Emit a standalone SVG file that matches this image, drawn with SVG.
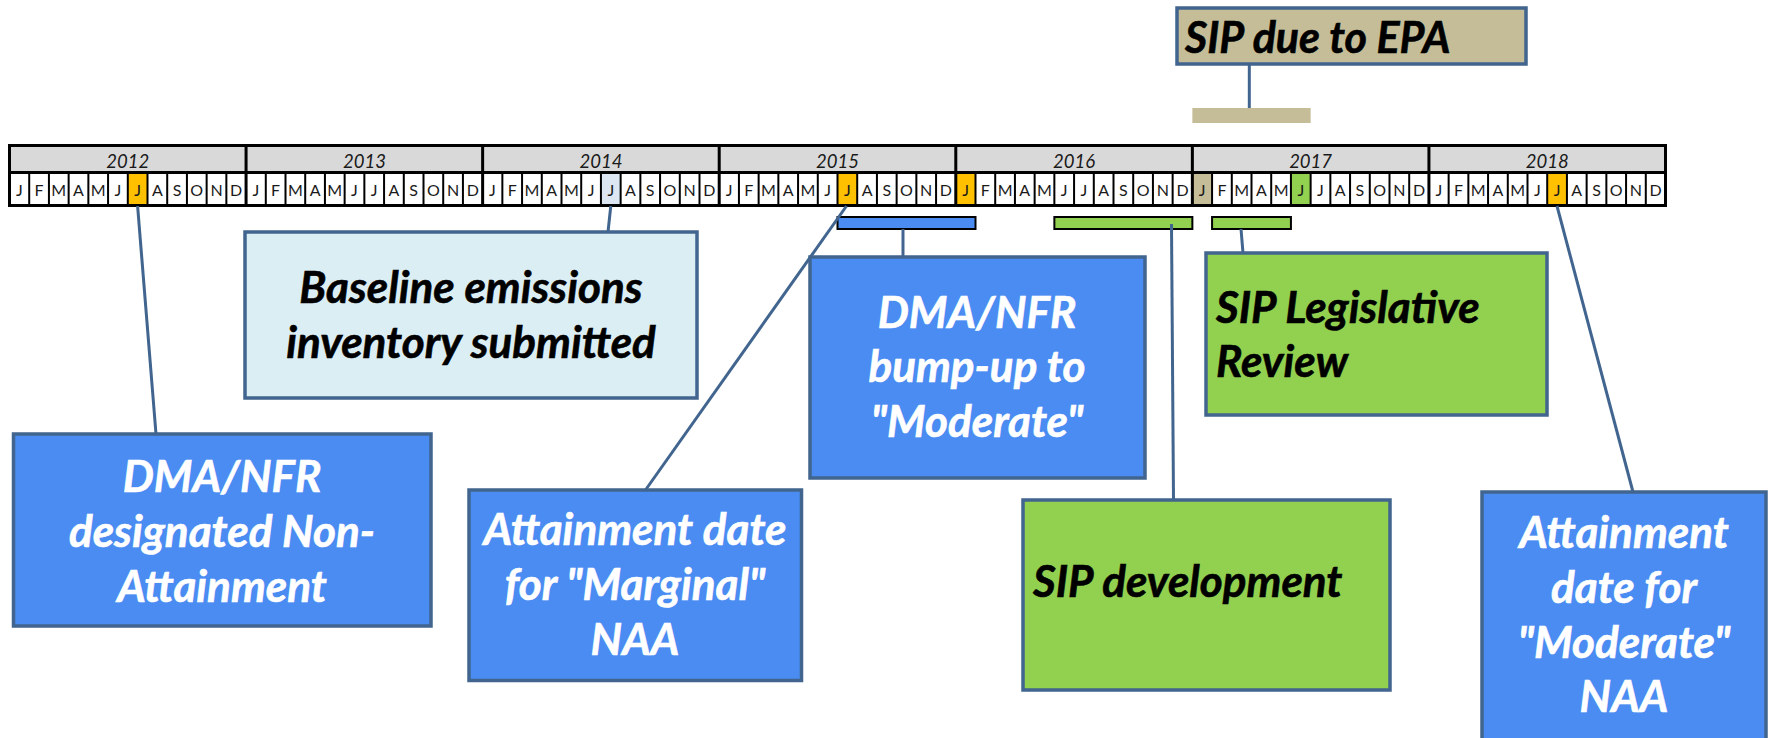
<svg xmlns="http://www.w3.org/2000/svg" width="1769" height="738" viewBox="0 0 1769 738">
<style>
.box{stroke:#41658F;stroke-width:3.5}
.blue{fill:#4A8CF2}
.green{fill:#92D050}
.lb{fill:#DBEEF4}
.tan{fill:#C4BD97}
.bt{font-family:Lato,"Liberation Sans",sans-serif;font-weight:bold;font-style:italic;font-size:44px;stroke-width:0.6}
.w{fill:#FFFFFF;stroke:#FFFFFF}
.k{fill:#000000;stroke:#000000}
.mid{text-anchor:middle}
.conn{stroke:#41658F;stroke-width:3;fill:none}
.yr{font-family:Lato,"Liberation Sans",sans-serif;font-style:italic;font-size:18.5px;fill:#1a1a1a;text-anchor:middle}
.mo{font-family:Lato,"Liberation Sans",sans-serif;font-size:16px;fill:#1a1a1a;text-anchor:middle}
.bar{stroke:#000;stroke-width:2}
</style>

<g id="timeline">
  <rect x="9.5" y="145.5" width="1656" height="27" fill="#D9D9D9"/>
  <rect x="9.5" y="172.5" width="1656" height="33" fill="#FFFFFF"/>
  <rect x="127.79" y="172.5" width="19.71" height="33" fill="#FFC000"/>
  <rect x="600.93" y="172.5" width="19.71" height="33" fill="#DCE6F2"/>
  <rect x="837.5" y="172.5" width="19.71" height="33" fill="#FFC000"/>
  <rect x="955.79" y="172.5" width="19.71" height="33" fill="#FFC000"/>
  <rect x="1192.36" y="172.5" width="19.71" height="33" fill="#C4BD97"/>
  <rect x="1290.93" y="172.5" width="19.71" height="33" fill="#92D050"/>
  <rect x="1547.21" y="172.5" width="19.71" height="33" fill="#FFC000"/>
  <path stroke="#000" stroke-width="2" fill="none" d="M29.21 172.5V205.5M48.93 172.5V205.5M68.64 172.5V205.5M88.36 172.5V205.5M108.07 172.5V205.5M127.79 172.5V205.5M147.5 172.5V205.5M167.21 172.5V205.5M186.93 172.5V205.5M206.64 172.5V205.5M226.36 172.5V205.5M265.79 172.5V205.5M285.5 172.5V205.5M305.21 172.5V205.5M324.93 172.5V205.5M344.64 172.5V205.5M364.36 172.5V205.5M384.07 172.5V205.5M403.79 172.5V205.5M423.5 172.5V205.5M443.21 172.5V205.5M462.93 172.5V205.5M502.36 172.5V205.5M522.07 172.5V205.5M541.79 172.5V205.5M561.5 172.5V205.5M581.21 172.5V205.5M600.93 172.5V205.5M620.64 172.5V205.5M640.36 172.5V205.5M660.07 172.5V205.5M679.79 172.5V205.5M699.5 172.5V205.5M738.93 172.5V205.5M758.64 172.5V205.5M778.36 172.5V205.5M798.07 172.5V205.5M817.79 172.5V205.5M837.5 172.5V205.5M857.21 172.5V205.5M876.93 172.5V205.5M896.64 172.5V205.5M916.36 172.5V205.5M936.07 172.5V205.5M975.5 172.5V205.5M995.21 172.5V205.5M1014.93 172.5V205.5M1034.64 172.5V205.5M1054.36 172.5V205.5M1074.07 172.5V205.5M1093.79 172.5V205.5M1113.5 172.5V205.5M1133.21 172.5V205.5M1152.93 172.5V205.5M1172.64 172.5V205.5M1212.07 172.5V205.5M1231.79 172.5V205.5M1251.5 172.5V205.5M1271.21 172.5V205.5M1290.93 172.5V205.5M1310.64 172.5V205.5M1330.36 172.5V205.5M1350.07 172.5V205.5M1369.79 172.5V205.5M1389.5 172.5V205.5M1409.21 172.5V205.5M1448.64 172.5V205.5M1468.36 172.5V205.5M1488.07 172.5V205.5M1507.79 172.5V205.5M1527.5 172.5V205.5M1547.21 172.5V205.5M1566.93 172.5V205.5M1586.64 172.5V205.5M1606.36 172.5V205.5M1626.07 172.5V205.5M1645.79 172.5V205.5"/>
  <path stroke="#000" stroke-width="3" fill="none" d="M9.5 172.5H1665.5M246.07 145.5V205.5M482.64 145.5V205.5M719.21 145.5V205.5M955.79 145.5V205.5M1192.36 145.5V205.5M1428.93 145.5V205.5"/>
  <rect x="9.5" y="145.5" width="1656" height="60" fill="none" stroke="#000" stroke-width="3"/>
  <text class="yr" x="127.8" y="167.5">2012</text>
  <text class="yr" x="364.4" y="167.5">2013</text>
  <text class="yr" x="600.9" y="167.5">2014</text>
  <text class="yr" x="837.5" y="167.5">2015</text>
  <text class="yr" x="1074.1" y="167.5">2016</text>
  <text class="yr" x="1310.6" y="167.5">2017</text>
  <text class="yr" x="1547.2" y="167.5">2018</text>
  <text class="mo" y="195.5" x="19.36 39.07 58.79 78.5 98.21 117.93 137.64 157.36 177.07 196.78 216.5 236.21">JFMAMJJASOND</text>
  <text class="mo" y="195.5" x="255.93 275.64 295.36 315.07 334.79 354.5 374.21 393.93 413.64 433.36 453.07 472.79">JFMAMJJASOND</text>
  <text class="mo" y="195.5" x="492.5 512.21 531.93 551.64 571.36 591.07 610.79 630.5 650.21 669.93 689.64 709.36">JFMAMJJASOND</text>
  <text class="mo" y="195.5" x="729.07 748.79 768.5 788.21 807.93 827.64 847.36 867.07 886.79 906.5 926.21 945.93">JFMAMJJASOND</text>
  <text class="mo" y="195.5" x="965.64 985.36 1005.07 1024.79 1044.5 1064.21 1083.93 1103.64 1123.36 1143.07 1162.79 1182.5">JFMAMJJASOND</text>
  <text class="mo" y="195.5" x="1202.21 1221.93 1241.64 1261.36 1281.07 1300.79 1320.5 1340.21 1359.93 1379.64 1399.36 1419.07">JFMAMJJASOND</text>
  <text class="mo" y="195.5" x="1438.79 1458.5 1478.21 1497.93 1517.64 1537.36 1557.07 1576.79 1596.5 1616.21 1635.93 1655.64">JFMAMJJASOND</text>
</g>

<g id="bars">
  <rect id="bar-bump" class="blue bar" x="837.5" y="217" width="138" height="12"/>
  <rect id="bar-sipdev" class="green bar" x="1054.36" y="217" width="138" height="12"/>
  <rect id="bar-leg" class="green bar" x="1212.07" y="217" width="78.86" height="12"/>
  <rect id="bar-due" class="tan" x="1192.36" y="108" width="118.28" height="15"/>
</g>

<g id="connectors">
  <line class="conn" x1="137.6" y1="206" x2="156" y2="434"/>
  <line class="conn" x1="610.8" y1="206" x2="608" y2="232"/>
  <line class="conn" x1="846.5" y1="206" x2="645.5" y2="490"/>
  <line class="conn" x1="903" y1="229" x2="903" y2="257"/>
  <line class="conn" x1="1171.5" y1="224" x2="1173.5" y2="500"/>
  <line class="conn" x1="1241" y1="229" x2="1243" y2="253"/>
  <line class="conn" x1="1557" y1="206" x2="1633" y2="492"/>
  <line class="conn" x1="1249.3" y1="64" x2="1249.3" y2="108"/>
</g>

<g id="node-sip-due">
  <rect class="box tan" x="1177" y="8" width="349" height="56"/>
  <text class="bt k" x="1185" y="53" style="font-size:43px">SIP due to EPA</text>
</g>

<g id="node-designated">
  <rect class="box blue" x="13.5" y="434" width="417.5" height="192"/>
  <text class="bt w mid" x="222" y="492">DMA/NFR</text>
  <text class="bt w mid" x="222" y="547">designated Non-</text>
  <text class="bt w mid" x="222" y="602">Attainment</text>
</g>

<g id="node-baseline">
  <rect class="box lb" x="245" y="232" width="452" height="166"/>
  <text class="bt k mid" x="471" y="303">Baseline emissions</text>
  <text class="bt k mid" x="471" y="358">inventory submitted</text>
</g>

<g id="node-marginal">
  <rect class="box blue" x="469" y="490" width="332.5" height="190.5"/>
  <text class="bt w mid" x="635" y="545">Attainment date</text>
  <text class="bt w mid" x="635" y="600">for "Marginal"</text>
  <text class="bt w mid" x="635" y="655">NAA</text>
</g>

<g id="node-bump">
  <rect class="box blue" x="810" y="257" width="335" height="221"/>
  <text class="bt w mid" x="977" y="328">DMA/NFR</text>
  <text class="bt w mid" x="977" y="382">bump-up to</text>
  <text class="bt w mid" x="977" y="437">"Moderate"</text>
</g>

<g id="node-legislative">
  <rect class="box green" x="1206" y="253" width="341" height="162"/>
  <text class="bt k" x="1216" y="323">SIP Legislative</text>
  <text class="bt k" x="1216" y="377">Review</text>
</g>

<g id="node-sipdev">
  <rect class="box green" x="1023" y="500" width="367" height="190"/>
  <text class="bt k" x="1033" y="597">SIP development</text>
</g>

<g id="node-moderate">
  <rect class="box blue" x="1482" y="492" width="284" height="260"/>
  <text class="bt w mid" x="1624" y="548">Attainment</text>
  <text class="bt w mid" x="1624" y="603">date for</text>
  <text class="bt w mid" x="1624" y="658">"Moderate"</text>
  <text class="bt w mid" x="1624" y="712">NAA</text>
</g>
</svg>
